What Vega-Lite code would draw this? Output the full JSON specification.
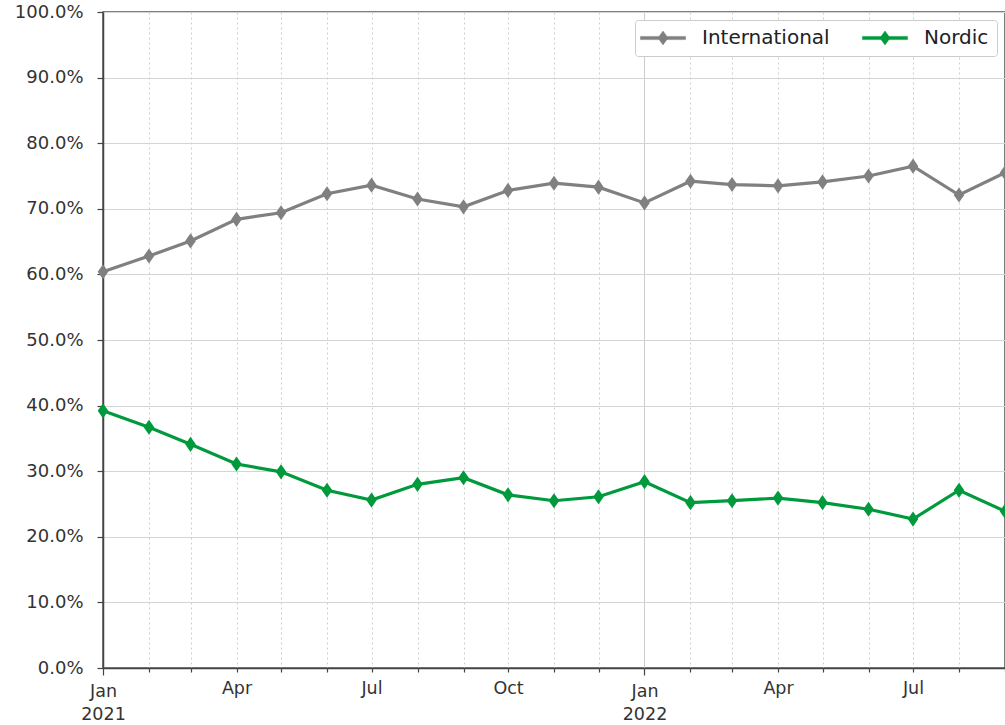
{
  "$schema": "https://vega.github.io/schema/vega-lite/v6.json",
  "width": 902,
  "height": 656,
  "autosize": {"type": "none"},
  "padding": {"left": 103, "top": 12, "right": 0, "bottom": 57},
  "background": "white",
  "config": {
    "font": "DejaVu Sans",
    "view": {"stroke": "#555", "strokeWidth": 1.5},
    "axis": {"labelFont": "DejaVu Sans", "labelColor": "#333", "domainColor": "#444", "domainWidth": 1.5, "tickColor": "#444", "tickWidth": 1.2}
  },
  "data": {
    "values": [
      {"date": "2021-01-01", "series": "International", "value": 60.4},
      {"date": "2021-02-01", "series": "International", "value": 62.8},
      {"date": "2021-03-01", "series": "International", "value": 65.1},
      {"date": "2021-04-01", "series": "International", "value": 68.4},
      {"date": "2021-05-01", "series": "International", "value": 69.4},
      {"date": "2021-06-01", "series": "International", "value": 72.3},
      {"date": "2021-07-01", "series": "International", "value": 73.6},
      {"date": "2021-08-01", "series": "International", "value": 71.5},
      {"date": "2021-09-01", "series": "International", "value": 70.3},
      {"date": "2021-10-01", "series": "International", "value": 72.8},
      {"date": "2021-11-01", "series": "International", "value": 73.9},
      {"date": "2021-12-01", "series": "International", "value": 73.3},
      {"date": "2022-01-01", "series": "International", "value": 70.9},
      {"date": "2022-02-01", "series": "International", "value": 74.2},
      {"date": "2022-03-01", "series": "International", "value": 73.7},
      {"date": "2022-04-01", "series": "International", "value": 73.5},
      {"date": "2022-05-01", "series": "International", "value": 74.1},
      {"date": "2022-06-01", "series": "International", "value": 75.0},
      {"date": "2022-07-01", "series": "International", "value": 76.5},
      {"date": "2022-08-01", "series": "International", "value": 72.1},
      {"date": "2022-09-01", "series": "International", "value": 75.5},
      {"date": "2021-01-01", "series": "Nordic", "value": 39.2},
      {"date": "2021-02-01", "series": "Nordic", "value": 36.7},
      {"date": "2021-03-01", "series": "Nordic", "value": 34.1},
      {"date": "2021-04-01", "series": "Nordic", "value": 31.1},
      {"date": "2021-05-01", "series": "Nordic", "value": 29.9},
      {"date": "2021-06-01", "series": "Nordic", "value": 27.1},
      {"date": "2021-07-01", "series": "Nordic", "value": 25.6},
      {"date": "2021-08-01", "series": "Nordic", "value": 28.0},
      {"date": "2021-09-01", "series": "Nordic", "value": 29.0},
      {"date": "2021-10-01", "series": "Nordic", "value": 26.4},
      {"date": "2021-11-01", "series": "Nordic", "value": 25.5},
      {"date": "2021-12-01", "series": "Nordic", "value": 26.1},
      {"date": "2022-01-01", "series": "Nordic", "value": 28.4},
      {"date": "2022-02-01", "series": "Nordic", "value": 25.2},
      {"date": "2022-03-01", "series": "Nordic", "value": 25.5},
      {"date": "2022-04-01", "series": "Nordic", "value": 25.9},
      {"date": "2022-05-01", "series": "Nordic", "value": 25.2},
      {"date": "2022-06-01", "series": "Nordic", "value": 24.2},
      {"date": "2022-07-01", "series": "Nordic", "value": 22.7},
      {"date": "2022-08-01", "series": "Nordic", "value": 27.1},
      {"date": "2022-09-01", "series": "Nordic", "value": 23.9}
    ]
  },
  "mark": {
    "type": "line",
    "strokeWidth": 3.2,
    "clip": false,
    "point": {"filled": true, "shape": "M0,-1L0.7,0L0,1L-0.7,0Z", "size": 230, "opacity": 1}
  },
  "encoding": {
    "x": {
      "field": "date",
      "type": "temporal",
      "scale": {"type": "utc", "domain": [{"year": 2021, "month": 1, "date": 1, "utc": true}, {"year": 2022, "month": 9, "date": 1, "utc": true}], "nice": false},
      "axis": {
        "title": null,
        "tickCount": {"interval": "month", "step": 1},
        "labelExpr": "utcmonth(datum.value)==0 ? ['Jan', utcFormat(datum.value,'%Y')] : (utcmonth(datum.value)%3==0 ? utcFormat(datum.value,'%b') : '')",
        "labelFontSize": 17.5,
        "labelLineHeight": 23,
        "labelPadding": 7,
        "labelOverlap": false,
        "labelFlush": false,
        "labelAlign": "center",
        "tickSize": {"condition": {"test": "utcmonth(datum.value)==0", "value": 7}, "value": 4},
        "grid": true,
        "gridColor": "#cccccc",
        "gridWidth": 1,
        "gridDash": {"condition": {"test": "utcmonth(datum.value)==0", "value": []}, "value": [2, 3]}
      }
    },
    "y": {
      "field": "value",
      "type": "quantitative",
      "scale": {"domain": [0, 100], "nice": false},
      "axis": {
        "title": null,
        "values": [0, 10, 20, 30, 40, 50, 60, 70, 80, 90, 100],
        "labelExpr": "format(datum.value, '.1f') + '%'",
        "labelFontSize": 18,
        "labelPadding": 14,
        "tickSize": 6,
        "grid": true,
        "gridColor": "#d4d4d4",
        "gridWidth": 1.2
      }
    },
    "color": {
      "field": "series",
      "type": "nominal",
      "scale": {"domain": ["International", "Nordic"], "range": ["#808080", "#009a3d"]},
      "legend": {
        "title": null,
        "orient": "top-right",
        "offset": 8,
        "direction": "horizontal",
        "fillColor": "white",
        "strokeColor": "#cccccc",
        "cornerRadius": 3,
        "padding": 8,
        "labelFontSize": 20,
        "labelColor": "#222",
        "labelFont": "DejaVu Sans",
        "symbolType": "M-2.65,-0.19L2.65,-0.19L2.65,0.19L-2.65,0.19Z M0,-0.82L0.59,0L0,0.82L-0.59,0Z",
        "symbolSize": 289,
        "symbolOffset": 10,
        "symbolStrokeWidth": 0.5,
        "labelOffset": 29,
        "columnPadding": 31,
        "encode": {
          "symbols": {"update": {"fill": {"scale": "color", "field": "value"}, "stroke": {"scale": "color", "field": "value"}, "opacity": {"value": 1}}}
        }
      }
    }
  }
}
